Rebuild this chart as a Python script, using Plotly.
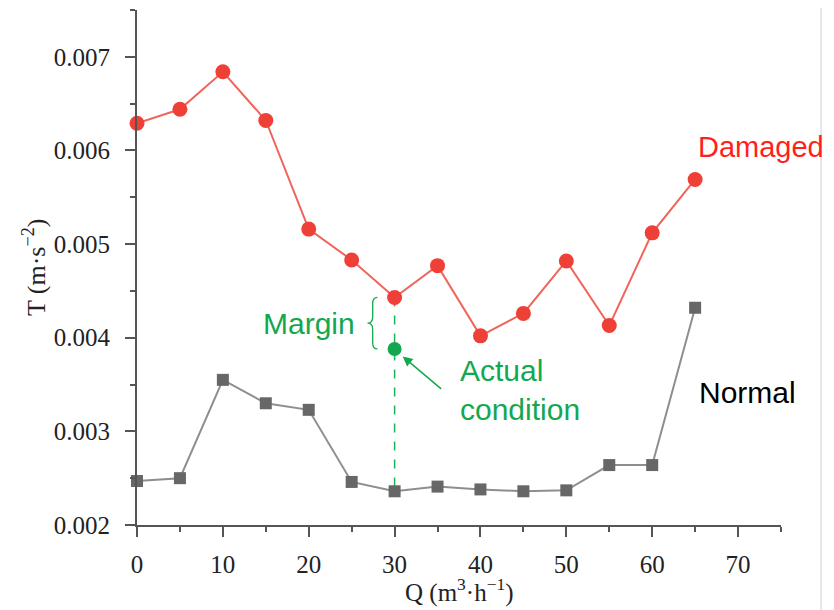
import plotly.graph_objects as go

# ---- data ----
q = [0, 5, 10, 15, 20, 25, 30, 35, 40, 45, 50, 55, 60, 65]
damaged = [0.00629, 0.00644, 0.00684, 0.00632, 0.00516, 0.00483, 0.00443,
           0.00477, 0.00402, 0.00426, 0.00482, 0.00413, 0.00512, 0.00569]
normal = [0.00247, 0.00250, 0.00355, 0.00330, 0.00323, 0.00246, 0.00236,
          0.00241, 0.00238, 0.00236, 0.00237, 0.00264, 0.00264, 0.00432]
actual_q = 30
actual_t = 0.00388

x_ticks = [0, 10, 20, 30, 40, 50, 60, 70]
y_ticks = [0.002, 0.003, 0.004, 0.005, 0.006, 0.007]
y_ticklabels = ["0.002", "0.003", "0.004", "0.005", "0.006", "0.007"]

RED_M = "#EE4037"
RED_L = "#F0645B"
GRAY_M = "#676767"
GRAY_L = "#8E8E8E"
GREEN = "#13A84F"
AXIS = "#555555"
SERIF = "Liberation Serif"
SANS = "Liberation Sans"

i30 = q.index(actual_q)

fig = go.Figure()

# dashed green vertical line from damaged to normal at Q=30
fig.add_trace(go.Scatter(
    x=[actual_q, actual_q], y=[damaged[i30], normal[i30]],
    mode="lines", line=dict(color="#1DB35E", width=1.5, dash="dash"),
    hoverinfo="skip", showlegend=False))

fig.add_trace(go.Scatter(
    x=q, y=normal, mode="lines+markers", name="Normal",
    line=dict(color=GRAY_L, width=2),
    marker=dict(symbol="square", size=12, color=GRAY_M),
    cliponaxis=False, showlegend=False))

fig.add_trace(go.Scatter(
    x=q, y=damaged, mode="lines+markers", name="Damaged",
    line=dict(color=RED_L, width=2),
    marker=dict(symbol="circle", size=15, color=RED_M),
    cliponaxis=False, showlegend=False))

fig.add_trace(go.Scatter(
    x=[actual_q], y=[actual_t], mode="markers", name="Actual condition",
    marker=dict(symbol="circle", size=14, color=GREEN),
    showlegend=False))

# curly brace between damaged point and actual point
yt, yb = damaged[i30], actual_t
ym = (yt + yb) / 2
xe, xm, xt = 28.0, 27.45, 26.85
dy = (yt - yb) * 0.12
brace = (f"M {xe},{yt} Q {xm},{yt} {xm},{yt - dy} L {xm},{ym + dy} "
         f"Q {xm},{ym} {xt},{ym} Q {xm},{ym} {xm},{ym - dy} "
         f"L {xm},{yb + dy} Q {xm},{yb} {xe},{yb}")
fig.add_shape(type="path", path=brace, xref="x", yref="y",
              line=dict(color=GREEN, width=1.3))

# light frame line at right
fig.add_shape(type="line", xref="paper", yref="paper",
              x0=1.0622, x1=1.0622, y0=-0.17, y1=1.02,
              line=dict(color="#D0D0D0", width=1))

ann_font = dict(family=SANS, size=30)
fig.add_annotation(x=65.1, y=0.00604, text="Damaged", showarrow=False,
                   xanchor="left", yanchor="middle",
                   font=dict(family=SANS, size=29, color="#FF1F1F"))
fig.add_annotation(x=65.2, y=0.00341, text="Normal", showarrow=False,
                   xanchor="left", yanchor="middle",
                   font=dict(ann_font, color="#000000"))
fig.add_annotation(x=25.6, y=ym, text="Margin", showarrow=False,
                   xanchor="right", yanchor="middle",
                   font=dict(ann_font, color=GREEN))
fig.add_annotation(x=37.4, y=0.00344, text="Actual<br>condition",
                   showarrow=False, xanchor="left", yanchor="middle",
                   align="left", font=dict(ann_font, color=GREEN))
# arrow
fig.add_annotation(x=30.95, y=0.00380, ax=35.6, ay=0.00344,
                   xref="x", yref="y", axref="x", ayref="y",
                   text="", showarrow=True, arrowhead=2, arrowsize=1.3,
                   arrowwidth=1.5, arrowcolor=GREEN)

# axis titles
fig.add_annotation(xref="paper", yref="paper", x=-0.159, y=0.5,
                   text="T (m·s<sup>−2</sup>)", textangle=-90,
                   showarrow=False, xanchor="center", yanchor="middle",
                   font=dict(family=SERIF, size=26, color="#222"))
fig.add_annotation(xref="paper", yref="paper", x=0.5, y=-0.128,
                   text="Q (m<sup>3</sup>·h<sup>−1</sup>)",
                   showarrow=False, xanchor="center", yanchor="middle",
                   font=dict(family=SERIF, size=25, color="#222"))

fig.update_xaxes(range=[0, 75], tickvals=x_ticks, ticks="outside",
                 ticklen=10, tickwidth=2, tickcolor=AXIS,
                 showline=True, linecolor=AXIS, linewidth=2,
                 showgrid=False, zeroline=False, automargin=False,
                 minor=dict(dtick=5, tick0=0, ticks="outside", ticklen=5,
                            tickwidth=2, tickcolor=AXIS, showgrid=False),
                 tickfont=dict(family=SERIF, size=25, color="#222"),
                 ticklabelstandoff=6)
fig.update_yaxes(range=[0.002, 0.0075], tickvals=y_ticks,
                 ticktext=y_ticklabels, ticks="outside",
                 ticklen=10, tickwidth=2, tickcolor=AXIS,
                 showline=True, linecolor=AXIS, linewidth=2,
                 showgrid=False, zeroline=False, automargin=False,
                 minor=dict(dtick=0.0005, tick0=0.002, ticks="outside",
                            ticklen=5, tickwidth=2, tickcolor=AXIS,
                            showgrid=False),
                 tickfont=dict(family=SERIF, size=25, color="#222"),
                 ticklabelstandoff=10)

# the page has an 8px body margin, so the figure is 8px smaller each way
fig.update_layout(width=826, height=602,
                  margin=dict(l=129, r=53, t=2, b=85, autoexpand=False),
                  plot_bgcolor="white", paper_bgcolor="white",
                  showlegend=False)

fig.write_html("out.html")
